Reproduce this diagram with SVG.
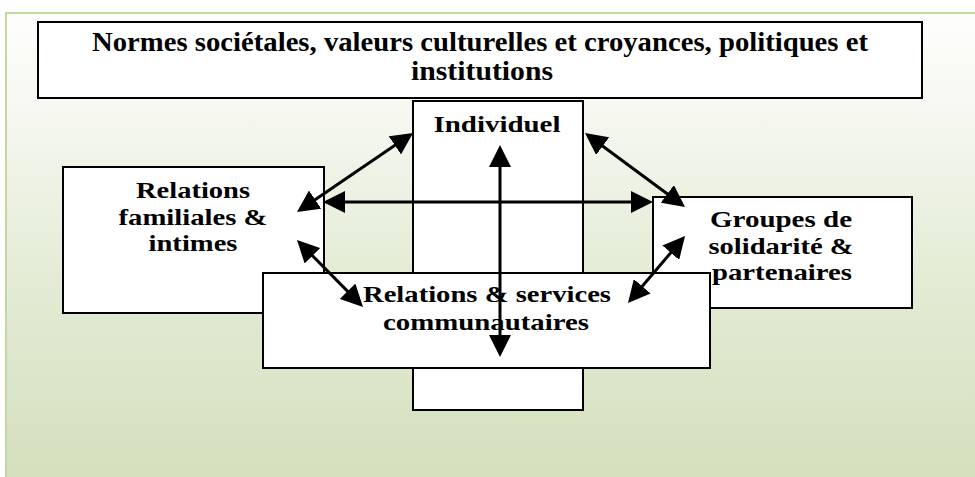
<svg xmlns="http://www.w3.org/2000/svg" width="975" height="477" viewBox="0 0 975 477">
<defs>
<linearGradient id="bg" x1="0" y1="0" x2="0" y2="1">
<stop offset="0" stop-color="#fefefd"/>
<stop offset="0.2" stop-color="#f6f8f1"/>
<stop offset="0.55" stop-color="#e4ecd6"/>
<stop offset="1" stop-color="#d4dfbc"/>
</linearGradient>
<marker id="ah" viewBox="0 0 22 22" refX="17" refY="11" markerWidth="22" markerHeight="22" markerUnits="userSpaceOnUse" orient="auto-start-reverse">
<path d="M0,0 L22,11 L0,22 z" fill="#000"/>
</marker>
</defs>
<style>
.box{fill:#fff;stroke:#000;stroke-width:2}
.t{font-family:"Liberation Serif","Times New Roman",serif;font-weight:bold;font-size:24px;fill:#000;text-anchor:middle}
.title{font-size:28px}
.c{stroke:#000;stroke-width:3;fill:none;marker-start:url(#ah);marker-end:url(#ah)}
</style>
<rect x="0" y="0" width="975" height="477" fill="#fff"/>
<rect x="6" y="13" width="975" height="470" fill="url(#bg)" stroke="#c3d7a0" stroke-width="2"/>
<g id="societal">
<rect class="box" x="38" y="22" width="884" height="76"/>
<text class="t title" x="480" y="51" textLength="776" lengthAdjust="spacingAndGlyphs">Normes sociétales, valeurs culturelles et croyances, politiques et</text>
<text class="t title" x="482" y="80" textLength="142" lengthAdjust="spacingAndGlyphs">institutions</text>
</g>
<g id="individuel">
<rect class="box" x="413" y="101" width="170" height="309"/>
<text class="t" x="497" y="132" textLength="127" lengthAdjust="spacingAndGlyphs">Individuel</text>
</g>
<g id="familiales">
<rect class="box" x="63" y="167" width="261" height="146"/>
<text class="t" x="193" y="198" textLength="114" lengthAdjust="spacingAndGlyphs">Relations</text>
<text class="t" x="193" y="225" textLength="149" lengthAdjust="spacingAndGlyphs">familiales &amp;</text>
<text class="t" x="193" y="251" textLength="89" lengthAdjust="spacingAndGlyphs">intimes</text>
</g>
<g id="groupes">
<rect class="box" x="653" y="197" width="259" height="111"/>
<text class="t" x="781" y="227" textLength="142" lengthAdjust="spacingAndGlyphs">Groupes de</text>
<text class="t" x="781" y="254" textLength="145" lengthAdjust="spacingAndGlyphs">solidarité &amp;</text>
<text class="t" x="782" y="280" textLength="140" lengthAdjust="spacingAndGlyphs">partenaires</text>
</g>
<g id="communautaires">
<rect class="box" x="263" y="273" width="447" height="95"/>
<text class="t" x="487" y="302" textLength="248" lengthAdjust="spacingAndGlyphs">Relations &amp; services</text>
<text class="t" x="486" y="330" textLength="206" lengthAdjust="spacingAndGlyphs">communautaires</text>
</g>
<g id="connectors">
<line class="c" x1="500" y1="150" x2="500" y2="352"/>
<line class="c" x1="328" y1="202" x2="648" y2="202"/>
<line class="c" x1="408.9" y1="135.8" x2="301.1" y2="209.2"/>
<line class="c" x1="589" y1="136" x2="681" y2="204"/>
<line class="c" x1="300.5" y1="243.6" x2="359.5" y2="303.4"/>
<line class="c" x1="681.8" y1="239.8" x2="631.2" y2="299.2"/>
</g>
</svg>
